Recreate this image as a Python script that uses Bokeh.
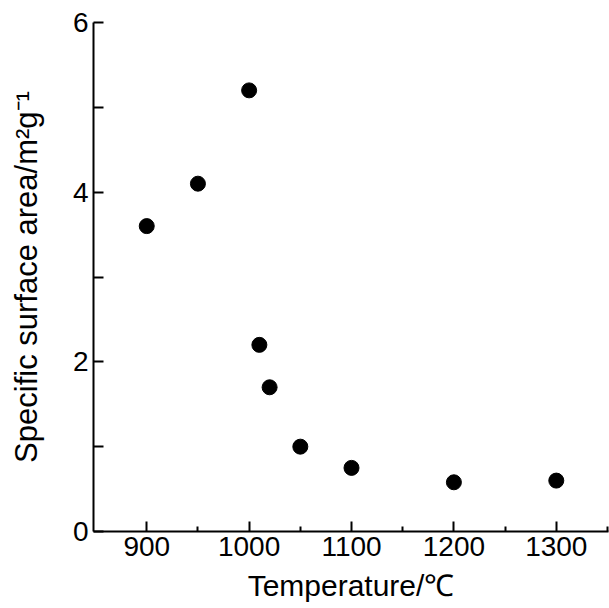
from bokeh.plotting import figure
from bokeh.models import FixedTicker, Range1d
from bokeh.embed import file_html
from bokeh.resources import INLINE

temperature = [900, 950, 1000, 1010, 1020, 1050, 1100, 1200, 1300]
surface_area = [3.6, 4.1, 5.2, 2.2, 1.7, 1.0, 0.75, 0.58, 0.6]
x_major = [900, 1000, 1100, 1200, 1300]
x_minor = [950, 1050, 1150, 1250, 1350]
y_ticks = [0, 1, 2, 3, 4, 5, 6]

p = figure(width=609, height=608, output_backend="svg", toolbar_location=None,
           x_range=Range1d(848, 1351), y_range=Range1d(0, 6),
           min_border_left=93, min_border_right=1, min_border_top=22, min_border_bottom=77)
p.outline_line_color = None
p.xgrid.visible = False
p.ygrid.visible = False

p.scatter(temperature, surface_area, size=15, color="black")

font = "Liberation Sans"
for ax in (p.xaxis, p.yaxis):
    ax.axis_line_width = 2
    ax.major_tick_line_width = 2
    ax.minor_tick_line_width = 2
    ax.major_tick_in = 10
    ax.major_tick_out = 0
    ax.minor_tick_out = 0
    ax.major_label_text_font = font
    ax.major_label_text_font_size = "28px"
    ax.major_label_text_color = "black"
    ax.axis_label_text_font = font
    ax.axis_label_text_font_style = "normal"
    ax.axis_label_text_color = "black"
    ax.major_label_standoff = 5

p.xaxis.ticker = FixedTicker(ticks=x_major, minor_ticks=x_minor)
p.xaxis.minor_tick_in = 5
p.xaxis.axis_label = "Temperature/\u2103"
p.xaxis.axis_label_text_font_size = "30px"
p.xaxis.axis_label_standoff = 10

p.yaxis.ticker = FixedTicker(ticks=y_ticks)
p.yaxis.major_label_overrides = {1: "", 3: "", 5: ""}
p.yaxis.minor_tick_in = 0
p.yaxis.axis_label = "Specific surface area/m\u00b2g\u207b\u00b9"
p.yaxis.axis_label_text_font_size = "31px"
p.yaxis.axis_label_standoff = 26

open("out.html", "w").write(file_html(p, INLINE))
